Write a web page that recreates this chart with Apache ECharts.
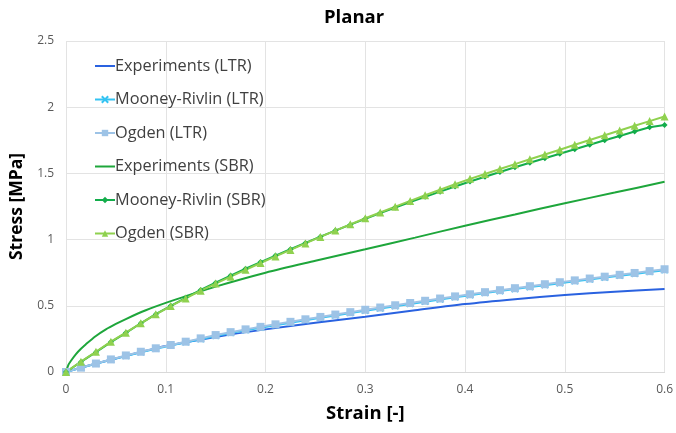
<!DOCTYPE html>
<html><head><meta charset="utf-8">
<script src="https://cdn.jsdelivr.net/npm/echarts@6/dist/echarts.min.js"></script>
<style>html,body{margin:0;padding:0;background:#fff}#c{width:676px;height:433px}</style>
</head><body><div id="c"></div>
<script>
// Experiments (dense sampling near origin)
const expLTR_x = [0, 0.01, 0.02, 0.04, 0.06, 0.08, 0.1, 0.15, 0.2, 0.25, 0.3, 0.35, 0.4, 0.45, 0.5, 0.55, 0.6];
const expLTR_y = [0, 0.022, 0.043, 0.083, 0.122, 0.16, 0.196, 0.265, 0.322, 0.372, 0.418, 0.466, 0.513, 0.55, 0.582, 0.607, 0.627];
const expSBR_x = [0, 0.0025, 0.005, 0.01, 0.015, 0.02, 0.03, 0.04, 0.05, 0.06, 0.08, 0.1, 0.12, 0.15, 0.2, 0.25, 0.3, 0.35, 0.4, 0.45, 0.5, 0.55, 0.6];
const expSBR_y = [0, 0.055, 0.085, 0.135, 0.175, 0.21, 0.272, 0.322, 0.363, 0.4, 0.466, 0.522, 0.572, 0.645, 0.75, 0.84, 0.927, 1.015, 1.105, 1.19, 1.275, 1.355, 1.437];
// Model strains (0 to 0.6 in steps of 0.015)
const modelX = [0, 0.015, 0.03, 0.045, 0.06, 0.075, 0.09, 0.105, 0.12, 0.135, 0.15, 0.165, 0.18, 0.195, 0.21, 0.225, 0.24, 0.255, 0.27, 0.285, 0.3, 0.315, 0.33, 0.345, 0.36, 0.375, 0.39, 0.405, 0.42, 0.435, 0.45, 0.465, 0.48, 0.495, 0.51, 0.525, 0.54, 0.555, 0.57, 0.585, 0.6];
const ogdenLTR = [0, 0.033, 0.064, 0.095, 0.125, 0.153, 0.179, 0.204, 0.229, 0.254, 0.279, 0.301, 0.322, 0.341, 0.36, 0.379, 0.398, 0.416, 0.434, 0.452, 0.47, 0.487, 0.504, 0.521, 0.538, 0.555, 0.571, 0.587, 0.603, 0.618, 0.633, 0.648, 0.663, 0.678, 0.692, 0.706, 0.72, 0.734, 0.748, 0.762, 0.776];
const mooneyLTR = [0, 0.032, 0.062, 0.092, 0.121, 0.149, 0.175, 0.2, 0.224, 0.248, 0.272, 0.294, 0.315, 0.334, 0.353, 0.372, 0.391, 0.409, 0.427, 0.445, 0.463, 0.48, 0.497, 0.514, 0.531, 0.548, 0.564, 0.58, 0.596, 0.611, 0.626, 0.641, 0.656, 0.671, 0.685, 0.699, 0.713, 0.727, 0.741, 0.755, 0.769];
const ogdenSBR = [0, 0.078, 0.153, 0.229, 0.297, 0.368, 0.436, 0.498, 0.556, 0.614, 0.668, 0.72, 0.772, 0.823, 0.873, 0.922, 0.971, 1.02, 1.068, 1.115, 1.161, 1.205, 1.249, 1.292, 1.335, 1.377, 1.418, 1.459, 1.496, 1.533, 1.57, 1.607, 1.643, 1.679, 1.716, 1.752, 1.788, 1.824, 1.86, 1.895, 1.93];
const mooneySBR = [0, 0.076, 0.15, 0.226, 0.296, 0.368, 0.437, 0.5, 0.56, 0.62, 0.675, 0.728, 0.78, 0.83, 0.879, 0.927, 0.975, 1.022, 1.068, 1.113, 1.157, 1.2, 1.242, 1.283, 1.323, 1.362, 1.401, 1.439, 1.475, 1.511, 1.546, 1.581, 1.615, 1.649, 1.683, 1.717, 1.75, 1.783, 1.816, 1.848, 1.866];
const xTicks = [0, 0.1, 0.2, 0.3, 0.4, 0.5, 0.6];
const yTicks = [0, 0.5, 1, 1.5, 2, 2.5];
const names = ['Experiments (LTR)', 'Mooney-Rivlin (LTR)', 'Ogden (LTR)', 'Experiments (SBR)', 'Mooney-Rivlin (SBR)', 'Ogden (SBR)'];

const zip = (xs, ys) => xs.map((x, i) => [x, ys[i]]);
const F = 'Open Sans';
const chart = echarts.init(document.getElementById('c'));
chart.setOption({
  animation: false,
  title: { text: 'Planar', left: 319, top: 3, textStyle: { fontFamily: F, fontSize: 18.5, fontWeight: 'bold', color: '#000' } },
  grid: { left: 66, right: 10, top: 41, bottom: 61 },
  legend: {
    orient: 'vertical', left: 89, top: 51, itemGap: 13.5, itemWidth: 20, itemHeight: 8,
    textStyle: { fontFamily: F, fontSize: 16.3, lineHeight: 20, color: '#404040', padding: [0, 0, 0, -5] },
    data: names.map(n => n.indexOf('Experiments') === 0 ? { name: n, itemStyle: { opacity: 0 } } : { name: n })
  },
  xAxis: {
    type: 'value', min: xTicks[0], max: xTicks[xTicks.length - 1], interval: 0.1,
    name: 'Strain [-]', nameLocation: 'middle', nameGap: 32,
    nameTextStyle: { fontFamily: F, fontSize: 18.5, fontWeight: 'bold', color: '#000' },
    axisLine: { lineStyle: { color: '#d9d9d9' } }, axisTick: { show: false },
    axisLabel: { fontFamily: F, fontSize: 12, color: '#595959', margin: 12 },
    splitLine: { lineStyle: { color: '#e3e3e3' } }
  },
  yAxis: {
    type: 'value', min: yTicks[0], max: yTicks[yTicks.length - 1], interval: 0.5,
    name: 'Stress [MPa]', nameLocation: 'middle', nameGap: 38,
    nameTextStyle: { fontFamily: F, fontSize: 17.5, fontWeight: 'bold', color: '#000' },
    axisLine: { show: false }, axisTick: { show: false },
    axisLabel: { fontFamily: F, fontSize: 12, color: '#595959', margin: 12 },
    splitLine: { lineStyle: { color: '#e3e3e3' } }
  },
  series: [
    { name: names[0], type: 'line', smooth: 0.3, showSymbol: false, data: zip(expLTR_x, expLTR_y), lineStyle: { color: '#2a62e0', width: 2 }, itemStyle: { color: '#2a62e0' } },
    { name: names[1], type: 'line', symbol: 'path://M0,0L10,10M10,0L0,10', symbolSize: 6, data: zip(modelX, mooneyLTR), lineStyle: { color: '#33c3f2', width: 2 }, itemStyle: { color: '#33c3f2', borderColor: '#33c3f2', borderWidth: 1.5 } },
    { name: names[2], type: 'line', symbol: 'rect', symbolSize: 8, data: zip(modelX, ogdenLTR), lineStyle: { color: '#9dc3e6', width: 2 }, itemStyle: { color: '#9dc3e6' } },
    { name: names[3], type: 'line', smooth: 0.3, showSymbol: false, data: zip(expSBR_x, expSBR_y), lineStyle: { color: '#1ea63b', width: 2 }, itemStyle: { color: '#1ea63b' } },
    { name: names[4], type: 'line', symbol: 'diamond', symbolSize: 6, data: zip(modelX, mooneySBR), lineStyle: { color: '#13ad4b', width: 2 }, itemStyle: { color: '#13ad4b' } },
    { name: names[5], type: 'line', symbol: 'triangle', symbolSize: 8, data: zip(modelX, ogdenSBR), lineStyle: { color: '#8fd14f', width: 2 }, itemStyle: { color: '#8fd14f' } }
  ]
});
</script></body></html>
